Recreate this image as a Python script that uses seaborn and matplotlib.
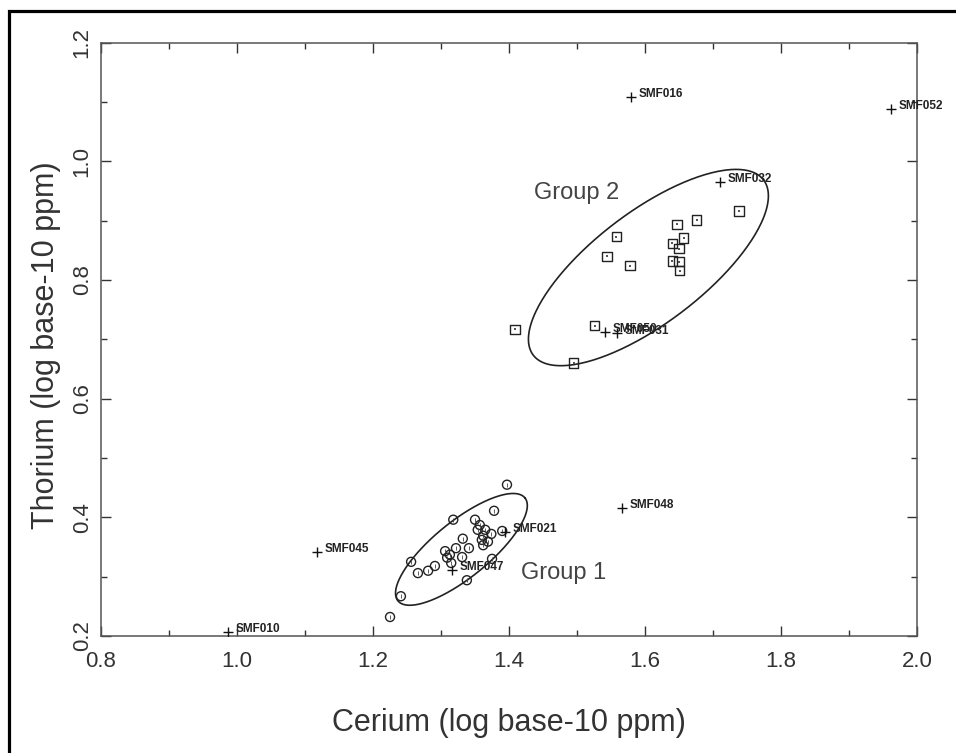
import numpy as np
import pandas as pd
import seaborn as sns
import matplotlib
matplotlib.use("Agg")
from matplotlib import pyplot as plt
from matplotlib.patches import Rectangle
from matplotlib.ticker import MultipleLocator

# group 1 samples (circles)
g1_ce = [1.225, 1.241, 1.256, 1.266, 1.281, 1.291, 1.306, 1.309, 1.313, 1.318, 1.322, 1.331, 1.332, 1.341, 1.338,
         1.350, 1.357, 1.354, 1.365, 1.362, 1.374, 1.360, 1.369, 1.362, 1.375, 1.378, 1.390, 1.397, 1.315]
g1_th = [0.232, 0.267, 0.325, 0.306, 0.310, 0.318, 0.343, 0.332, 0.337, 0.396, 0.348, 0.333, 0.364, 0.348, 0.294,
         0.396, 0.387, 0.379, 0.379, 0.369, 0.372, 0.362, 0.359, 0.353, 0.330, 0.411, 0.377, 0.455, 0.323]

# group 2 samples (squares)
g2_ce = [1.738, 1.676, 1.647, 1.657, 1.558, 1.640, 1.650, 1.544, 1.578, 1.640, 1.650, 1.651, 1.526, 1.409, 1.495]
g2_th = [0.916, 0.901, 0.894, 0.871, 0.873, 0.862, 0.853, 0.840, 0.824, 0.832, 0.831, 0.816, 0.723, 0.717, 0.660]

# labelled samples (crosses)
smf_names = ['SMF016', 'SMF052', 'SMF032', 'SMF050', 'SMF031', 'SMF048', 'SMF021', 'SMF047', 'SMF045', 'SMF010']
smf_ce = [1.579, 1.962, 1.710, 1.541, 1.559, 1.566, 1.394, 1.316, 1.118, 0.986]
smf_th = [1.108, 1.088, 0.965, 0.713, 0.710, 0.416, 0.376, 0.312, 0.342, 0.207]

# group ellipses: centre, half major axis vector, half minor axis vector (data units)
ell_names = ['Group 1', 'Group 2']
ell_center = [(1.330, 0.346), (1.605, 0.821)]
ell_major = [(0.0934, 0.0868), (0.1694, 0.1476)]
ell_minor = [(-0.0259, 0.0366), (0.0494, -0.0747)]
grp_label_pos = [(1.481, 0.306), (1.500, 0.947)]

sns.set_style('ticks')
plt.rcParams['font.family'] = ['Liberation Sans', 'DejaVu Sans']

fig = plt.figure(figsize=(9.56, 7.53), dpi=100)
ax = fig.add_axes([0.1057, 0.1554, 0.8535, 0.7879])

df1 = pd.DataFrame({'ce': g1_ce, 'th': g1_th})
df2 = pd.DataFrame({'ce': g2_ce, 'th': g2_th})
df3 = pd.DataFrame({'ce': smf_ce, 'th': smf_th, 'name': smf_names})

sns.scatterplot(data=df1, x='ce', y='th', ax=ax, marker='o', s=42, facecolor='none',
                edgecolor='#222222', linewidth=1.0, zorder=3)
sns.scatterplot(data=df1, x='ce', y='th', ax=ax, marker='|', s=6, color='#444444', linewidth=0.6, zorder=3)
sns.scatterplot(data=df2, x='ce', y='th', ax=ax, marker='s', s=46, facecolor='none',
                edgecolor='#222222', linewidth=1.0, zorder=3)
sns.scatterplot(data=df2, x='ce', y='th', ax=ax, marker='s', s=3, color='#555555', linewidth=0, zorder=3)
sns.scatterplot(data=df3, x='ce', y='th', ax=ax, marker='+', s=55, color='#111111', linewidth=1.0, zorder=4)

# sample labels (SMF050 and SMF031 overlap in the original as well)
for i in df3.index:
    ax.annotate(df3['name'][i], (df3['ce'][i], df3['th'][i]), xytext=(5.5, 2), textcoords='offset points',
                fontsize=8.5, fontweight='bold', color='#222222', va='center', ha='left',
                annotation_clip=False)

t = np.linspace(0, 2 * np.pi, 300)
for k in range(len(ell_names)):
    cx, cy = ell_center[k]
    ax_, ay_ = ell_major[k]
    bx_, by_ = ell_minor[k]
    ax.plot(cx + ax_ * np.cos(t) + bx_ * np.sin(t), cy + ay_ * np.cos(t) + by_ * np.sin(t),
            color='#222222', lw=1.2, zorder=2)
    ax.text(grp_label_pos[k][0], grp_label_pos[k][1], ell_names[k], fontsize=17, color='#444444',
            ha='center', va='center')

ax.set_xlim(0.8, 2.0)
ax.set_ylim(0.2, 1.2)
ax.xaxis.set_minor_locator(MultipleLocator(0.1))
ax.yaxis.set_minor_locator(MultipleLocator(0.1))
ax.set_xticks([0.8, 1.0, 1.2, 1.4, 1.6, 1.8, 2.0])
ax.set_xticklabels(['0.8', '1.0', '1.2', '1.4', '1.6', '1.8', '2.0'])
ax.set_yticks([0.2, 0.4, 0.6, 0.8, 1.0, 1.2])
ax.set_yticklabels(['0.2', '0.4', '0.6', '0.8', '1.0', '1.2'])

ax.tick_params(which='both', direction='in', top=True, right=True, color='#333333', width=1.0)
ax.tick_params(which='major', length=7)
ax.tick_params(which='minor', length=4.5)
ax.tick_params(axis='x', labelsize=16, labelcolor='#333333', pad=11)
ax.tick_params(axis='y', labelsize=16, labelcolor='#333333', pad=6, labelrotation=90)
for lab in ax.get_yticklabels():
    lab.set_va('center')

for sp in ax.spines.values():
    sp.set_color('#555555')
    sp.set_linewidth(1.1)

ax.set_xlabel('Cerium (log base-10 ppm)', fontsize=22, color='#333333')
ax.set_ylabel('Thorium (log base-10 ppm)', fontsize=22, color='#333333')
ax.xaxis.label.set_va('center')
ax.yaxis.label.set_va('center')
ax.xaxis.set_label_coords(0.5, -0.146)
ax.yaxis.set_label_coords(-0.068, 0.49)

# outer frame of the figure
fig.patches.append(Rectangle((9 / 956, -0.2), 2.0, 1.2 - 11 / 753, transform=fig.transFigure,
                             fill=False, edgecolor='black', linewidth=2.3))

fig.savefig('out.png', dpi=100)
